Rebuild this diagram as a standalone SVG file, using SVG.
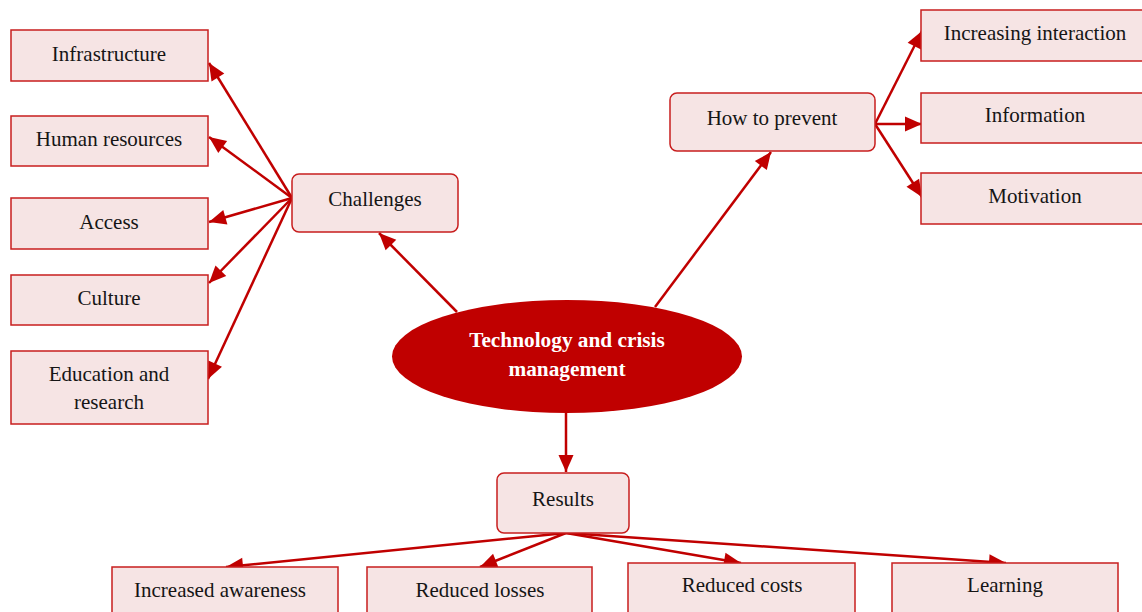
<svg xmlns="http://www.w3.org/2000/svg" width="1142" height="612" viewBox="0 0 1142 612">
<style>
.box{fill:#f6e4e4;stroke:#c81e1e;stroke-width:1.5}
.t{font-family:"Liberation Serif","Times New Roman",serif;font-size:21px;fill:#151515;text-anchor:middle}
.tb{font-family:"Liberation Serif","Times New Roman",serif;font-size:21.3px;font-weight:bold;fill:#ffffff;text-anchor:middle}
.c{stroke:#c00000;stroke-width:2.5;fill:none;marker-end:url(#ah)}
</style>
<defs>
<marker id="ah" markerUnits="userSpaceOnUse" markerWidth="18" markerHeight="16" refX="17" refY="8" orient="auto" overflow="visible">
<path d="M0,0.5 L17,8 L0,15.5 Z" fill="#c00000"/>
</marker>
</defs>
<g id="connectors">
<line class="c" x1="292" y1="198" x2="209" y2="63"/>
<line class="c" x1="292" y1="198" x2="209" y2="137"/>
<line class="c" x1="292" y1="198" x2="209" y2="222"/>
<line class="c" x1="292" y1="198" x2="209" y2="283"/>
<line class="c" x1="292" y1="198" x2="208" y2="379"/>
<line class="c" x1="457" y1="312" x2="379" y2="233"/>
<line class="c" x1="655" y1="307" x2="771" y2="152"/>
<line class="c" x1="875" y1="124" x2="922" y2="31"/>
<line class="c" x1="875" y1="124" x2="922" y2="124"/>
<line class="c" x1="875" y1="124" x2="922" y2="197"/>
<line class="c" x1="566" y1="413" x2="566" y2="472"/>
<line class="c" x1="566" y1="533" x2="226" y2="567"/>
<line class="c" x1="566" y1="533" x2="480" y2="567"/>
<line class="c" x1="566" y1="533" x2="741" y2="563"/>
<line class="c" x1="566" y1="533" x2="1006" y2="563"/>
</g>
<g id="center">
<ellipse cx="567" cy="356.5" rx="175" ry="56.5" fill="#c00000"/>
<text class="tb" x="567" y="347">Technology and crisis</text>
<text class="tb" x="567" y="376">management</text>
</g>
<g id="challenges">
<rect class="box" x="292" y="174" width="166" height="58" rx="7"/>
<text class="t" x="375" y="206">Challenges</text>
</g>
<g id="infrastructure">
<rect class="box" x="11" y="30" width="197" height="51"/>
<text class="t" x="109" y="61">Infrastructure</text>
</g>
<g id="human">
<rect class="box" x="11" y="116" width="197" height="50"/>
<text class="t" x="109" y="146">Human resources</text>
</g>
<g id="access">
<rect class="box" x="11" y="198" width="197" height="51"/>
<text class="t" x="109" y="229">Access</text>
</g>
<g id="culture">
<rect class="box" x="11" y="275" width="197" height="50"/>
<text class="t" x="109" y="305">Culture</text>
</g>
<g id="education">
<rect class="box" x="11" y="351" width="197" height="73"/>
<text class="t" x="109" y="381">Education and</text>
<text class="t" x="109" y="409">research</text>
</g>
<g id="prevent">
<rect class="box" x="670" y="93" width="205" height="58" rx="7"/>
<text class="t" x="772" y="125">How to prevent</text>
</g>
<g id="interaction">
<rect class="box" x="921" y="10" width="228" height="51"/>
<text class="t" x="1035" y="40">Increasing interaction</text>
</g>
<g id="information">
<rect class="box" x="921" y="93" width="228" height="50"/>
<text class="t" x="1035" y="122">Information</text>
</g>
<g id="motivation">
<rect class="box" x="921" y="173" width="228" height="51"/>
<text class="t" x="1035" y="203">Motivation</text>
</g>
<g id="results">
<rect class="box" x="497" y="473" width="132" height="60" rx="7"/>
<text class="t" x="563" y="506">Results</text>
</g>
<g id="awareness">
<rect class="box" x="112" y="567" width="226" height="60"/>
<text class="t" x="220" y="597">Increased awareness</text>
</g>
<g id="losses">
<rect class="box" x="367" y="567" width="225" height="60"/>
<text class="t" x="480" y="597">Reduced losses</text>
</g>
<g id="costs">
<rect class="box" x="628" y="563" width="227" height="60"/>
<text class="t" x="742" y="592">Reduced costs</text>
</g>
<g id="learning">
<rect class="box" x="892" y="563" width="226" height="60"/>
<text class="t" x="1005" y="592">Learning</text>
</g>
</svg>
